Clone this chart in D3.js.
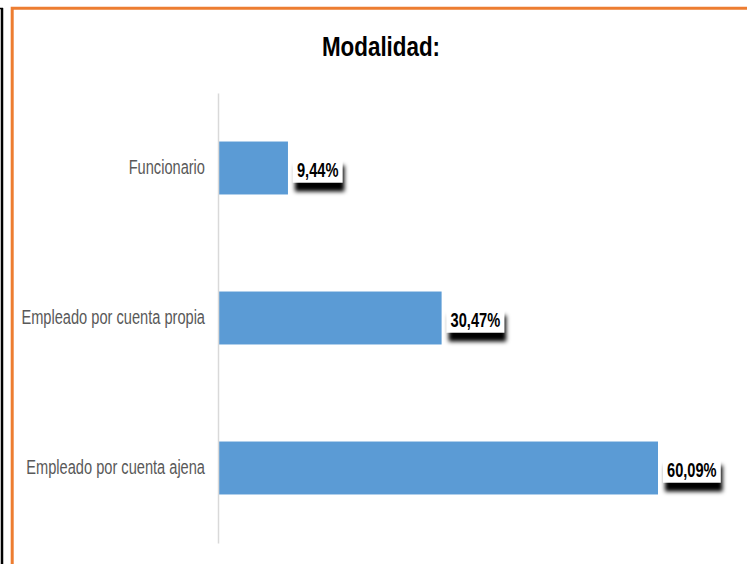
<!DOCTYPE html>
<html><head><meta charset="utf-8">
<script src="https://cdn.jsdelivr.net/npm/d3@7/dist/d3.min.js"></script>
<style>html,body{margin:0;padding:0;background:#fff;}svg{display:block;}</style>
</head><body>
<script>
const categories = ["Funcionario", "Empleado por cuenta propia", "Empleado por cuenta ajena"];
const values = [9.44, 30.47, 60.09];
const valueLabels = ["9,44%", "30,47%", "60,09%"];
const title = "Modalidad:";

const W = 747, H = 564;
const FONT = "'Liberation Sans',Arial,sans-serif";
const svg = d3.select("body").append("svg").attr("width", W).attr("height", H);

const defs = svg.append("defs");
const f = defs.append("filter").attr("id","shadow").attr("x","-20%").attr("y","-20%").attr("width","150%").attr("height","200%");
f.append("feDropShadow").attr("dx",2).attr("dy",9).attr("stdDeviation",2).attr("flood-color","#000").attr("flood-opacity",1);

// outer frame lines
svg.append("line").attr("x1",2).attr("x2",2).attr("y1",8).attr("y2",H).attr("stroke","#000").attr("stroke-width",2.5);
svg.append("line").attr("x1",0).attr("x2",3).attr("y1",8.5).attr("y2",8.5).attr("stroke","#000").attr("stroke-width",1.5);
svg.append("path").attr("d",`M12.2,${H} V8.2 H${W}`).attr("fill","none").attr("stroke","#ed7d31").attr("stroke-width",3);

const x = d3.scaleLinear().domain([0, 65]).range([219, 219 + 65 * (439 / 60.09)]);
const y = d3.scaleBand().domain(categories).range([93, 543]).paddingInner(0.647).paddingOuter(0.3235);

// title (narrow look via horizontal scale)
const TSX = 0.8;
svg.append("text").attr("transform",`translate(381,56) scale(${TSX},1)`).attr("text-anchor","middle")
  .attr("font-family",FONT).attr("font-weight","bold").attr("font-size",28).attr("fill","#000").text(title);

// bars
svg.append("g").selectAll("rect").data(categories).join("rect")
  .attr("x", x(0)).attr("y", d => y(d))
  .attr("width", (d,i) => x(values[i]) - x(0)).attr("height", y.bandwidth())
  .attr("fill", "#5b9bd5");

// axis (category)
const LSX = 0.75, LPAD = 13;
const axis = svg.append("g").attr("transform", `translate(${x(0) - 1},0)`)
  .call(d3.axisLeft(y).tickSize(0).tickPadding(LPAD));
axis.select(".domain").attr("stroke","#d9d9d9").attr("stroke-width",1.5);
axis.selectAll("text").attr("font-family",FONT).attr("font-size",19.5).attr("fill","#595959")
  .attr("x", -LPAD / LSX).attr("transform", `scale(${LSX},1)`);

// data labels
const DSX = 0.75;
const lg = svg.append("g").selectAll("g").data(categories).join("g")
  .attr("transform", (d,i) => `translate(${x(values[i]) + 5},${y(d) + y.bandwidth()/2 + 1.5})`);
lg.each(function(d,i){
  const g = d3.select(this);
  const pad = 4;
  const t = g.append("text").attr("font-family",FONT).attr("font-weight","bold").attr("font-size",19.5)
    .attr("fill","#000").attr("dy","0.36em").attr("transform",`translate(${pad},0) scale(${DSX},1)`).text(valueLabels[i]);
  const w = t.node().getComputedTextLength() * DSX;
  g.insert("rect","text").attr("x",0).attr("y",-13).attr("width",w + pad*2).attr("height",26)
    .attr("fill","#fff").attr("filter","url(#shadow)");
});
</script>
</body></html>
